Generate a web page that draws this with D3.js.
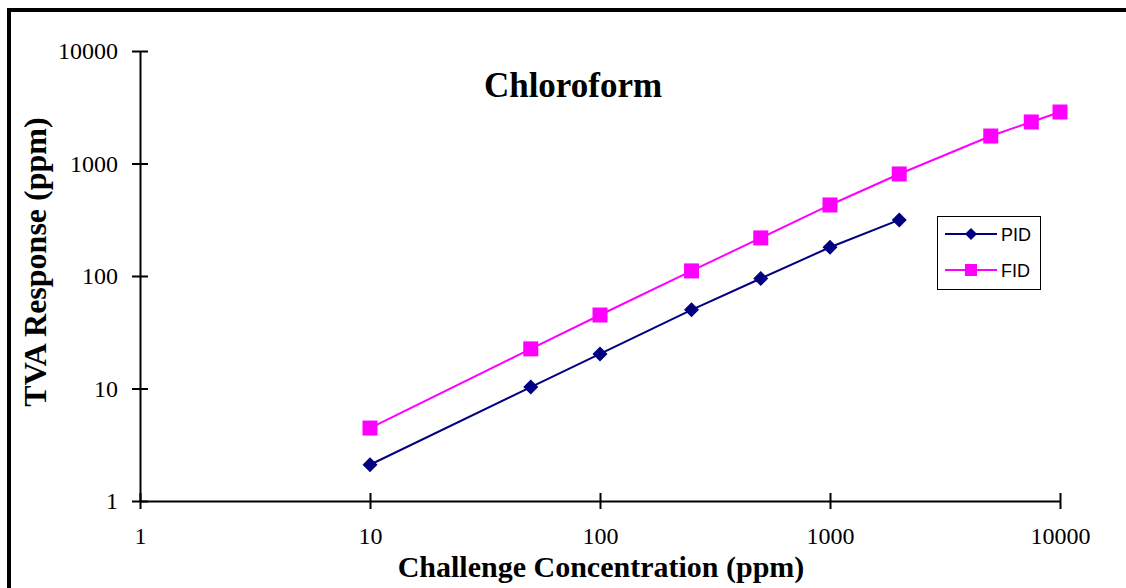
<!DOCTYPE html>
<html><head><meta charset="utf-8">
<script src="https://cdn.jsdelivr.net/npm/d3@7"></script>
<style>body{margin:0;background:#fff}svg{display:block}</style>
</head><body><svg id="c" width="1126" height="588"></svg>
<script>
const pidX = [10, 50, 100, 250, 500, 1000, 2000];
const pidY = [2.1, 10.3, 20.3, 50, 95, 180, 315];
const fidX = [10, 50, 100, 250, 500, 1000, 2000, 5000, 7500, 10000];
const fidY = [4.45, 22.5, 45, 111, 218, 428, 807, 1755, 2340, 2870];
const xTicks = [1, 10, 100, 1000, 10000];
const yTicks = [1, 10, 100, 1000, 10000];
const seriesNames = ["PID", "FID"];
const colors = ["#000080", "#FF00FF"];

const svg = d3.select("#c");
svg.append("rect").attr("x", 9).attr("y", 10).attr("width", 1200).attr("height", 700)
  .attr("fill", "none").attr("stroke", "#000").attr("stroke-width", 4);

const x = d3.scaleLog().domain([1, 10000]).range([140, 1060]);
const y = d3.scaleLog().domain([1, 10000]).range([501, 51]);

const serif = "'Liberation Serif','Times New Roman',serif";
const sans = "'Liberation Sans',Arial,sans-serif";

// axes
const gx = svg.append("g").attr("transform", "translate(0,501)")
  .call(d3.axisBottom(x).tickValues(xTicks).tickFormat(d3.format("d")).tickSizeInner(8).tickSizeOuter(0).tickPadding(18));
const gy = svg.append("g").attr("transform", "translate(140,0)")
  .call(d3.axisLeft(y).tickValues(yTicks).tickFormat(d3.format("d")).tickSizeInner(8).tickSizeOuter(0).tickPadding(14));
[gx, gy].forEach(g => {
  g.select(".domain").attr("stroke", "#000").attr("stroke-width", 2);
  g.selectAll(".tick line").attr("stroke", "#000").attr("stroke-width", 2);
  g.selectAll("text").attr("font-family", serif).attr("font-size", 24).attr("fill", "#000");
});
gx.selectAll(".tick line").attr("y1", -8);
gy.selectAll(".tick line").attr("x1", 8);

// lines
const series = [
  pidX.map((v, i) => [v, pidY[i]]),
  fidX.map((v, i) => [v, fidY[i]])
];
const line = d3.line().x(d => x(d[0])).y(d => y(d[1]));
series.forEach((s, k) => {
  svg.append("path").attr("d", line(s)).attr("fill", "none")
    .attr("stroke", colors[k]).attr("stroke-width", 2);
});
function drawMarker(g, k, cx, cy) {
  if (k === 0) {
    g.append("path").attr("d", `M${cx},${cy-7.5}L${cx+7.5},${cy}L${cx},${cy+7.5}L${cx-7.5},${cy}Z`)
      .attr("fill", colors[0]);
  } else {
    g.append("rect").attr("x", cx - 7.5).attr("y", cy - 7.5).attr("width", 15).attr("height", 15)
      .attr("fill", colors[1]);
  }
}
series.forEach((s, k) => {
  s.forEach(d => drawMarker(svg, k, x(d[0]), y(d[1])));
});

// titles
svg.append("text").attr("x", 573).attr("y", 97).attr("text-anchor", "middle")
  .attr("font-family", serif).attr("font-weight", "bold").attr("font-size", 35).text("Chloroform");
svg.append("text").attr("x", 601).attr("y", 577).attr("text-anchor", "middle")
  .attr("font-family", serif).attr("font-weight", "bold").attr("font-size", 30).text("Challenge Concentration (ppm)");
svg.append("text").attr("transform", "translate(46,262) rotate(-90)").attr("text-anchor", "middle")
  .attr("font-family", serif).attr("font-weight", "bold").attr("font-size", 32).text("TVA Response (ppm)");

// legend
const lg = svg.append("g");
lg.append("rect").attr("x", 937.5).attr("y", 216.5).attr("width", 103).attr("height", 73)
  .attr("fill", "#fff").attr("stroke", "#000").attr("stroke-width", 1);
seriesNames.forEach((n, k) => {
  const ly = 234 + k * 36;
  lg.append("line").attr("x1", 945).attr("x2", 997).attr("y1", ly).attr("y2", ly)
    .attr("stroke", colors[k]).attr("stroke-width", 2);
  if (k === 0) {
    lg.append("path").attr("d", `M971,${ly-6}L977,${ly}L971,${ly+6}L965,${ly}Z`).attr("fill", colors[0]);
  } else {
    lg.append("rect").attr("x", 965).attr("y", ly - 6).attr("width", 12).attr("height", 12).attr("fill", colors[1]);
  }
  lg.append("text").attr("x", 1001).attr("y", ly + 7).attr("font-family", sans).attr("font-size", 18)
    .attr("fill", "#000").text(n);
});
</script></body></html>
